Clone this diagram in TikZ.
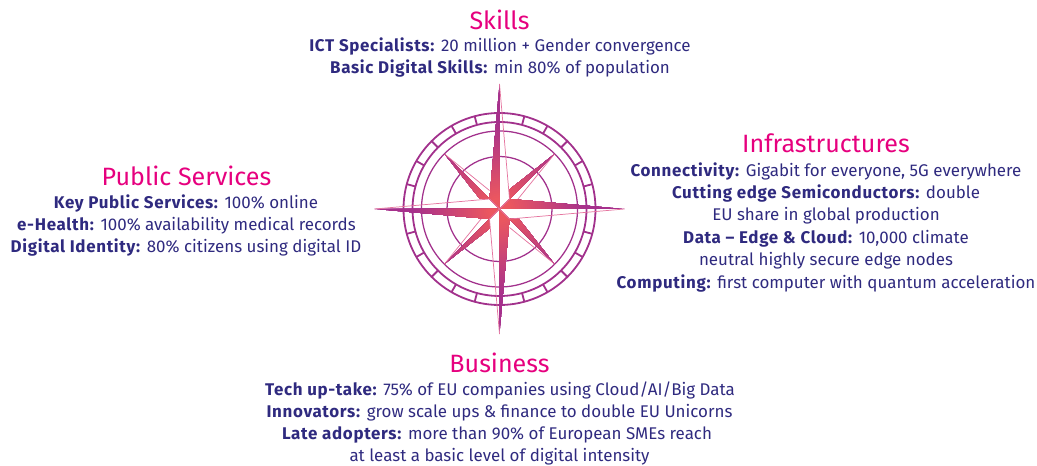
\documentclass[tikz,border=0pt]{standalone}
\usepackage{fontspec}
\setmainfont{Fira Sans}[BoldFont={Fira Sans Bold},BoldFeatures={LetterSpace=4}]
\usetikzlibrary{calc}
\definecolor{titlepink}{HTML}{E6007E}
\definecolor{textblue}{HTML}{2F2A7F}
\definecolor{ringpurple}{HTML}{A2318C}
\definecolor{thinpink}{HTML}{E5759F}
\definecolor{glowred}{HTML}{EB5760}
\definecolor{glowpurple}{HTML}{A6308C}
\tikzset{
  headtext/.style={font=\fontsize{18.8}{24}\selectfont,text=titlepink,anchor=base,inner sep=0pt},
  bodytext/.style={font=\fontsize{12.7}{15}\selectfont,text=textblue,anchor=base,inner sep=0pt},
  ring/.style={draw=ringpurple,line width=1.35pt},
  thinring/.style={draw=ringpurple,line width=0.95pt},
  edgeline/.style={draw=thinpink,line width=0.55pt}
}
\begin{document}
\begin{tikzpicture}[x=0.75pt,y=-0.75pt]
\useasboundingbox (0,0) rectangle (1037,466);
\coordinate (c) at (499.5,209);
% rings
\draw[ring] (c) circle[radius=96*0.75pt];
\draw[ring] (c) circle[radius=87*0.75pt];
\draw[thinring] (c) circle[radius=78*0.75pt];
\draw[thinring] (c) circle[radius=52.5*0.75pt];
\foreach \a in {15,30,...,75,105,120,...,165,195,210,...,255,285,300,...,345}
  \draw[ring] ($(c)+(\a:87*0.75pt)$) -- ($(c)+(\a:96*0.75pt)$);
% star: filled halves clipped, radial glow built from concentric discs
\begin{scope}
  \clip[shift={(c)}]
    (0,-125) -- (-10,-10) -- (0,0) -- cycle
    (125,0) -- (10,-10) -- (0,0) -- cycle
    (0,125) -- (10,10) -- (0,0) -- cycle
    (-125,0) -- (-10,10) -- (0,0) -- cycle
    (55,-55) -- (10,-19.5) -- (10,-10) -- cycle
    (55,55) -- (19.5,10) -- (10,10) -- cycle
    (-55,55) -- (-10,19.5) -- (-10,10) -- cycle
    (-55,-55) -- (-19.5,-10) -- (-10,-10) -- cycle;
  \foreach \r in {128,126,...,2}{
    \pgfmathsetmacro{\mixval}{max(0,min(100,(\r-12)/(88-12)*100))}
    \fill[glowpurple!\mixval!glowred] (c) circle[radius=\r*0.75pt];
  }
\end{scope}
% thin edges of white halves
\begin{scope}[shift={(c)}]
  \draw[edgeline] (0,-125) -- (10,-10) -- (0,0);
  \draw[edgeline] (125,0) -- (10,10) -- (0,0);
  \draw[edgeline] (0,125) -- (-10,10) -- (0,0);
  \draw[edgeline] (-125,0) -- (-10,-10) -- (0,0);
  \draw[edgeline] (55,-55) -- (18.5,-10);
  \draw[edgeline] (55,55) -- (10,18.5);
  \draw[edgeline] (-55,55) -- (-18.5,10);
  \draw[edgeline] (-55,-55) -- (-10,-18.5);
\end{scope}
% Skills
\node[headtext] (skills) at (499.5,29.5) {Skills};
\node[bodytext] (s1) at (500,52) {\textbf{ICT Specialists:} 20 million + Gender convergence};
\node[bodytext] (s2) at (500,74) {\textbf{Basic Digital Skills:} min 80\% of population};
% Public Services
\node[headtext] (pub) at (186.5,186) {Public Services};
\node[bodytext] (p1) at (186,209) {\textbf{Key Public Services:} 100\% online};
\node[bodytext] (p2) at (186.5,231) {\textbf{e-Health:} 100\% availability medical records};
\node[bodytext] (p3) at (186,253) {\textbf{Digital Identity:} 80\% citizens using digital ID};
% Infrastructures
\node[headtext] (inf) at (826,153) {Infrastructures};
\node[bodytext] (i1) at (826,177) {\textbf{Connectivity:} Gigabit for everyone, 5G everywhere};
\node[bodytext] (i2) at (826,199) {\textbf{Cutting edge Semiconductors:} double};
\node[bodytext] (i3) at (826,221) {EU share in global production};
\node[bodytext] (i4) at (826,244) {\textbf{Data – Edge \& Cloud:} 10,000 climate};
\node[bodytext] (i5) at (826,265.5) {neutral highly secure edge nodes};
\node[bodytext] (i6) at (826,288) {\textbf{Computing:} first computer with quantum acceleration};
% Business
\node[headtext] (bus) at (499.5,372) {Business};
\node[bodytext] (b1) at (500,395) {\textbf{Tech up-take:} 75\% of EU companies using Cloud/AI/Big Data};
\node[bodytext] (b2) at (499.5,417) {\textbf{Innovators:} grow scale ups \& finance to double EU Unicorns};
\node[bodytext] (b3) at (497,439) {\textbf{Late adopters:} more than 90\% of European SMEs reach};
\node[bodytext] (b4) at (499.5,461) {at least a basic level of digital intensity};
\end{tikzpicture}
\end{document}
